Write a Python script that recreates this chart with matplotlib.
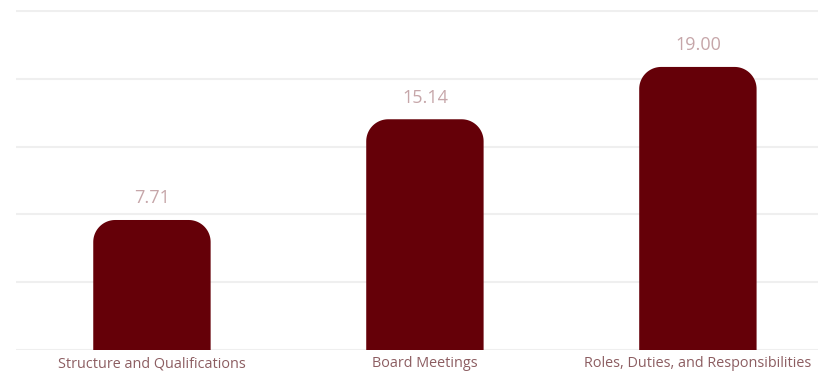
import numpy as np
import matplotlib
matplotlib.use('Agg')
import matplotlib.pyplot as plt
from matplotlib.patches import Polygon

categories = ['Structure and Qualifications', 'Board Meetings', 'Roles, Duties, and Responsibilities']
values = [7.71, 15.14, 19.00]
value_labels = ['7.71', '15.14', '19.00']

bar_color = '#650008'
label_color = '#c6a6a9'
tick_color = '#8c5d61'
grid_color = '#efefef'

plt.rcParams['font.family'] = ['Open Sans', 'DejaVu Sans']

W, H = 818, 371
fig = plt.figure(figsize=(W / 100, H / 100), dpi=100)
ax = fig.add_axes([16 / W, (H - 350) / H, (W - 16) / W, 340 / H])

y_lo, y_hi = -1.88, 23.2
x_lo, x_hi = -0.498, 2.44
ax.set_xlim(x_lo, x_hi)
ax.set_ylim(y_lo, y_hi)

x = np.arange(len(categories))
bars = ax.bar(x, values, width=0.43, color=bar_color)

# rounded top corners, radius in pixels converted to data units
px_x = (x_hi - x_lo) / (W - 16)
px_y = (y_hi - y_lo) / 340
r = 22
t = np.linspace(0, np.pi / 2, 24)
for rect in bars:
    rect.set_visible(False)
    bx, bw, top = rect.get_x(), rect.get_width(), rect.get_height()
    bottom = y_lo - 3
    rx, ry = r * px_x, r * px_y
    left_arc = np.column_stack([bx + rx - rx * np.cos(t), top - ry + ry * np.sin(t)])
    right_arc = np.column_stack([bx + bw - rx + rx * np.sin(t), top - ry + ry * np.cos(t)])
    verts = np.vstack([[[bx, bottom]], left_arc, right_arc, [[bx + bw, bottom]]])
    ax.add_patch(Polygon(verts, closed=True, facecolor=bar_color, edgecolor='none', zorder=3))

for xi, v, lab in zip(x, values, value_labels):
    ax.annotate(lab, (xi, v), xytext=(0, 12), textcoords='offset points',
                ha='center', va='baseline', fontsize=13, color=label_color)

ax.set_yticks(y_lo + np.arange(6) * 5)
ax.set_yticklabels([])
ax.grid(axis='y', color=grid_color, linewidth=1.5, zorder=0)
ax.tick_params(axis='y', length=0)
ax.set_xticks(x)
ax.set_xticklabels(categories, fontsize=10.4, color=tick_color)
ax.tick_params(axis='x', length=0, pad=4.5)
for s in ax.spines.values():
    s.set_visible(False)

fig.savefig('out.png', dpi=100)
